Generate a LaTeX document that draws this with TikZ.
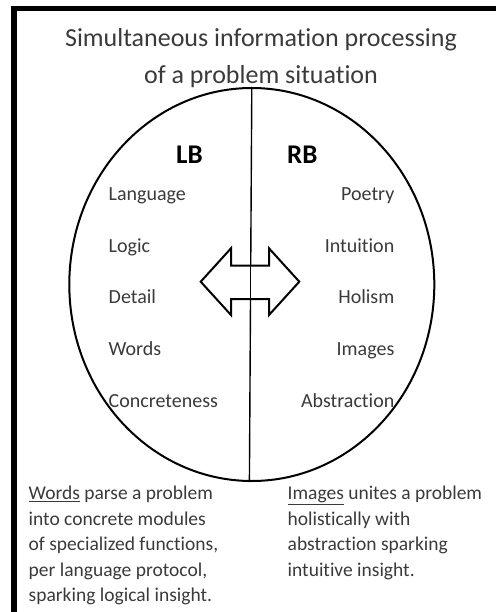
\documentclass[tikz,border=0pt]{standalone}
\usepackage{fontspec}
\setmainfont{Carlito}[Ligatures=NoCommon]
\usetikzlibrary{shapes.geometric}
\definecolor{txt}{HTML}{3A3A3A}
\begin{document}
\begin{tikzpicture}[x=1pt,y=-1pt,
  titletext/.style={font=\fontsize{26}{30}\selectfont, text=txt, inner sep=0pt, anchor=base},
  sidehead/.style={font=\fontsize{27}{30}\selectfont\bfseries, text=black, inner sep=0pt, anchor=base west},
  lefttrait/.style={font=\fontsize{20}{24}\selectfont, text=txt, inner sep=0pt, anchor=base west},
  righttrait/.style={font=\fontsize{20}{24}\selectfont, text=txt, inner sep=0pt, anchor=base east},
  para/.style={font=\fontsize{19.5}{24}\selectfont, text=txt, inner sep=0pt, anchor=base west},
  outline/.style={draw=black, line width=2pt},
  divider/.style={draw=black, line width=1.4pt}]
\useasboundingbox (0,0) rectangle (496,612);
% frame
\fill[black] (11,6) rectangle (17,612);
\fill[black] (11,6) rectangle (496,11);
% title
\node[titletext] (t1) at (261,46.7) {Simultaneous information processing};
\node[titletext] (t2) at (261,83.3) {of a problem situation};
% brain
\node[ellipse, outline, minimum width=365pt, minimum height=393pt, inner sep=0pt] (brain) at (251.8,284.5) {};
\draw[divider] (brain.north) -- ([xshift=-2.4pt]brain.south);
% arrow
\draw[outline, fill=white, line join=miter]
  (200.7,281.7) -- (231,248.3) -- (231,265.7) -- (269,265.7) -- (269,248.3)
  -- (299.3,281.7) -- (269,315) -- (269,299) -- (231,299) -- (231,315) -- cycle;
\draw[divider] (250.5,265.7) -- (250.5,299);
% headings
\node[sidehead] (lb) at (176,163.3) {LB};
\node[sidehead] (rb) at (287,163.3) {RB};
% traits
\node[lefttrait] (a1) at (108.5,200.7) {Language};
\node[lefttrait] (a2) at (108.5,252) {Logic};
\node[lefttrait] (a3) at (108.5,303.5) {Detail};
\node[lefttrait] (a4) at (108.5,355.5) {Words};
\node[lefttrait] (a5) at (108.5,407) {Concreteness};
\node[righttrait] (b1) at (394.5,200.7) {Poetry};
\node[righttrait] (b2) at (394.5,252) {Intuition};
\node[righttrait] (b3) at (394.5,303.5) {Holism};
\node[righttrait] (b4) at (394.5,355.5) {Images};
\node[righttrait] (b5) at (394.5,407) {Abstraction};
% paragraphs
\node[para] (l1) at (28.5,499.5) {\underline{Words} parse a problem};
\node[para] (l2) at (28.5,525) {into concrete modules};
\node[para] (l3) at (28.5,550.7) {of specialized functions,};
\node[para] (l4) at (28.5,576.2) {per language protocol,};
\node[para] (l5) at (28.5,601.7) {sparking logical insight.};
\node[para] (r1) at (287.5,499.5) {\underline{Images} unites a problem};
\node[para] (r2) at (287.5,525) {holistically with};
\node[para] (r3) at (287.5,550.7) {abstraction sparking};
\node[para] (r4) at (287.5,576.2) {intuitive insight.};
\end{tikzpicture}
\end{document}
